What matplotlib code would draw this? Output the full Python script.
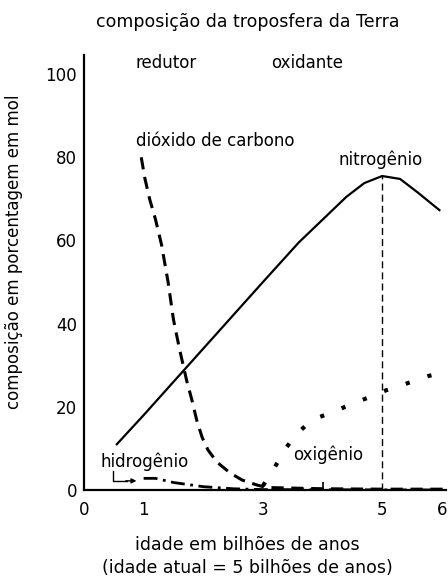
import matplotlib
matplotlib.use("Agg")
import matplotlib.pyplot as plt

# idade (bilhões de anos) vs composição (% em mol)
n2_x = [0.55, 1.0, 2.0, 3.0, 3.6, 4.0, 4.4, 4.7, 5.0, 5.3, 5.6, 5.96]
n2_y = [11, 18, 34, 50, 59.5, 65, 70.5, 73.8, 75.5, 74.8, 71.5, 67.3]

co2_x = [0.96, 1.02, 1.1, 1.2, 1.3, 1.41, 1.5, 1.6, 1.72, 1.81, 1.89, 1.98,
         2.08, 2.23, 2.45, 2.65, 2.9, 3.06, 4.0, 5.0, 6.05]
co2_y = [80, 75, 70, 65, 59, 50, 41, 34, 26.4, 21.6, 16.8, 12.7,
         9.6, 6.7, 4.1, 2.4, 1.2, 0.6, 0.3, 0.2, 0.2]

h2_x = [1.0, 1.2, 1.5, 2.0, 2.5, 3.0, 6.05]
h2_y = [2.8, 2.8, 1.8, 0.8, 0.3, 0.1, 0.0]

o2_x = [3.0, 3.2, 3.37, 3.58, 3.84, 4.17, 4.49, 4.8, 5.07, 5.43, 5.77, 5.96]
o2_y = [1.0, 5.5, 9.8, 13.7, 17.0, 18.7, 20.7, 22.4, 24.0, 25.7, 27.4, 28.0]

x_ticks = [0, 1, 3, 5, 6]
y_ticks = [0, 20, 40, 60, 80, 100]

fs = 12

fig = plt.figure(figsize=(4.48, 5.76), dpi=100)
ax = fig.add_axes([0.1875, 0.1493, 0.808, 0.7552])
ax.set_xlim(0, 6.07)
ax.set_ylim(0, 104.6)

# curves
ax.plot(n2_x, n2_y, color="black", lw=1.6)
ax.plot(co2_x, co2_y, color="black", lw=2.2, linestyle=(0, (4, 2.5)))
ax.plot(h2_x, h2_y, color="black", lw=2.0, linestyle=(0, (5, 2, 1, 2)))
ax.plot(o2_x, o2_y, color="black", lw=3.0, linestyle=(0, (1, 4.5)))

# present day marker
ax.plot([5, 5], [0, 75.5], color="black", lw=1.0, linestyle=(0, (5, 3)))

# labels on the chart
ax.text(1.37, 102.6, "redutor", fontsize=fs, ha="center", va="center")
ax.text(3.74, 102.6, "oxidante", fontsize=fs, ha="center", va="center")
ax.text(0.87, 84, "dióxido de carbono", fontsize=fs, ha="left", va="center")
ax.text(4.98, 79.5, "nitrogênio", fontsize=fs, ha="center", va="center")
ax.text(3.5, 8.4, "oxigênio", fontsize=fs, ha="left", va="center")
ax.text(0.28, 6.8, "hidrogênio", fontsize=fs, ha="left", va="center")
ax.plot([0.49, 0.49, 0.72], [4.6, 2.2, 2.2], color="black", lw=1.0)
ax.annotate("", xy=(0.88, 2.2), xytext=(0.7, 2.2),
            arrowprops=dict(arrowstyle="-|>", color="black", lw=1.0,
                            mutation_scale=7, shrinkA=0, shrinkB=0))

# axes styling
for side in ["top", "right"]:
    ax.spines[side].set_visible(False)
for side in ["left", "bottom"]:
    ax.spines[side].set_linewidth(1.6)

ax.set_xticks(x_ticks)
ax.set_xticklabels([str(v) for v in x_ticks])
ax.set_yticks(y_ticks)
ax.set_yticklabels([str(v) for v in y_ticks])
ax.tick_params(axis="x", which="major", length=0, labelsize=fs, pad=8)
ax.tick_params(axis="y", which="major", length=0, labelsize=fs, pad=5)
ax.set_xticks([1, 4], minor=True)
ax.set_yticks([20, 40, 60, 80], minor=True)
ax.tick_params(axis="x", which="minor", direction="in", length=6, width=1.2)
ax.tick_params(axis="y", which="minor", direction="in", length=16, width=1.4)

fig.text(0.552, 0.962, "composição da troposfera da Terra", fontsize=12.5,
         ha="center", va="center")
fig.text(0.031, 0.5625, "composição em porcentagem em mol", fontsize=fs,
         rotation=90, ha="center", va="center")
fig.text(0.552, 0.054, "idade em bilhões de anos", fontsize=12.5,
         ha="center", va="center")
fig.text(0.552, 0.014, "(idade atual = 5 bilhões de anos)", fontsize=12.5,
         ha="center", va="center")

fig.savefig("out.png", dpi=100)
